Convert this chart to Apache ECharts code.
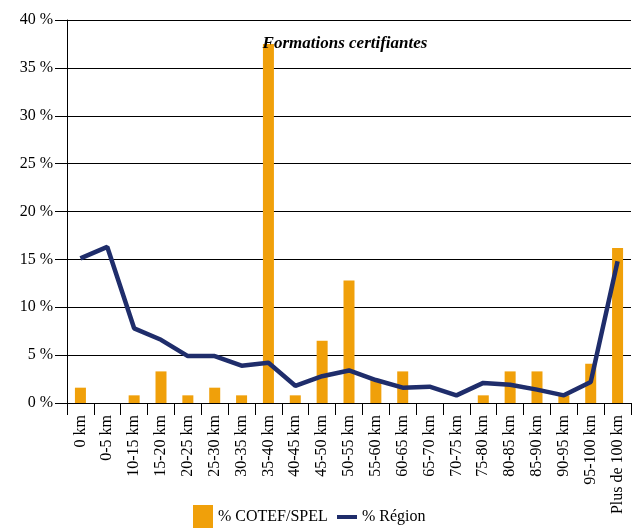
<!DOCTYPE html>
<html>
<head>
<meta charset="utf-8">
<script src="https://cdn.jsdelivr.net/npm/echarts@6/dist/echarts.min.js"></script>
<style>
  html, body { margin: 0; padding: 0; background: #fff; }
  #chart { width: 638px; height: 530px; }
</style>
</head>
<body>
<div id="chart"></div>
<script>
// distance classes
const categories = [
  "0 km", "0-5 km", "10-15 km", "15-20 km", "20-25 km", "25-30 km", "30-35 km",
  "35-40 km", "40-45 km", "45-50 km", "50-55 km", "55-60 km", "60-65 km",
  "65-70 km", "70-75 km", "75-80 km", "80-85 km", "85-90 km", "90-95 km",
  "95-100 km", "Plus de 100 km"
];

// % COTEF/SPEL (bars)
const cotefValues = [
  1.6, 0, 0.8, 3.3, 0.8, 1.6, 0.8, 37.5, 0.8, 6.5, 12.8, 2.4, 3.3,
  0, 0, 0.8, 3.3, 3.3, 0.8, 4.1, 16.2
];

// % Région (line)
const regionValues = [
  15.1, 16.3, 7.8, 6.6, 4.9, 4.9, 3.9, 4.2, 1.8, 2.8, 3.4, 2.4, 1.6,
  1.7, 0.8, 2.1, 1.9, 1.4, 0.8, 2.2, 14.8
];

const font = "Liberation Serif";
const orange = "#F0A00A";
const navy = "#1F2D6B";

const chart = echarts.init(document.getElementById("chart"));

const legendText = { fontFamily: font, fontSize: 16, color: "#000" };

const option = {
  animation: false,
  title: {
    text: "Formations certifiantes",
    left: 340,
    top: 30,
    textAlign: "center",
    textStyle: {
      fontFamily: font,
      fontStyle: "italic",
      fontWeight: "bold",
      fontSize: 17,
      color: "#000"
    }
  },
  // two legends so the line icon can be a thin bar
  legend: [
    {
      left: 188,
      top: 500,
      itemWidth: 20,
      itemHeight: 23,
      textStyle: legendText,
      data: [{ name: "% COTEF/SPEL", icon: "rect" }]
    },
    {
      left: 332,
      top: 504,
      itemWidth: 20,
      itemHeight: 4,
      textStyle: legendText,
      data: [{ name: "% Région", icon: "rect" }]
    }
  ],
  grid: { left: 67, right: 7, top: 20, bottom: 127 },
  xAxis: {
    type: "category",
    data: categories,
    axisLine: { lineStyle: { color: "#000", width: 1 } },
    axisTick: { show: true, length: 12, lineStyle: { color: "#000" } },
    axisLabel: {
      rotate: 90,
      interval: 0,
      margin: 12,
      fontFamily: font,
      fontSize: 16,
      color: "#000"
    }
  },
  yAxis: {
    type: "value",
    min: 0,
    max: 40,
    interval: 5,
    axisLine: { show: true, lineStyle: { color: "#000", width: 1 } },
    axisTick: { show: true, length: 12, lineStyle: { color: "#000" } },
    splitLine: { lineStyle: { color: "#000", width: 1 } },
    axisLabel: {
      formatter: "{value} %",
      margin: 14,
      fontFamily: font,
      fontSize: 16,
      color: "#000"
    }
  },
  series: [
    {
      name: "% COTEF/SPEL",
      type: "bar",
      data: cotefValues,
      barWidth: 11,
      itemStyle: { color: orange }
    },
    {
      name: "% Région",
      type: "line",
      data: regionValues,
      symbol: "none",
      lineStyle: { color: navy, width: 4.5 },
      itemStyle: { color: navy }
    }
  ]
};

chart.setOption(option);
</script>
</body>
</html>
